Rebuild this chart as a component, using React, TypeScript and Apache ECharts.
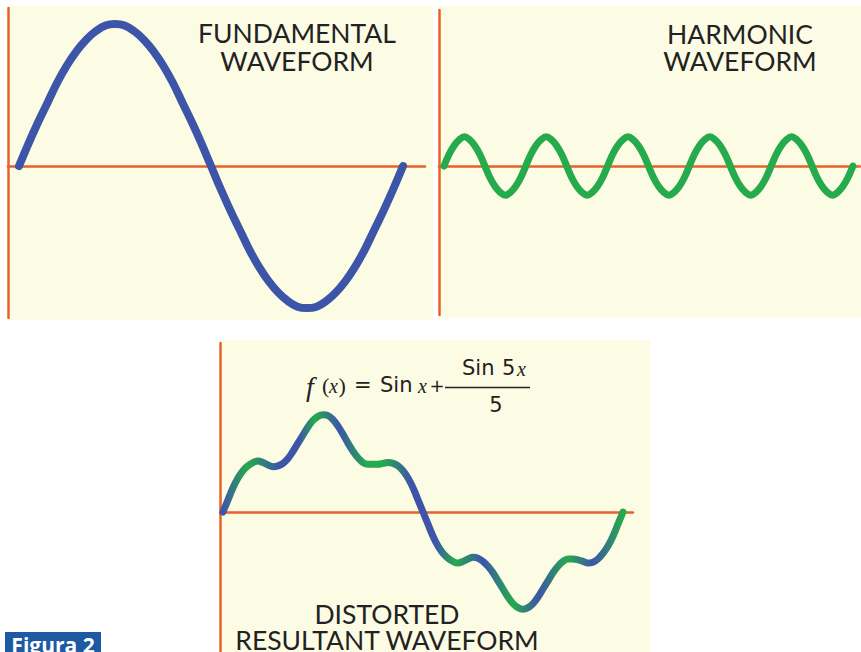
import React, { useEffect, useRef } from "react";
import * as echarts from "echarts";

// Sample phases, in degrees of the fundamental
const coarseDeg = [
  0, 9, 18, 27, 36, 45, 54, 63, 72, 81, 90, 99, 108, 117, 126, 135, 144, 153, 162, 171, 180,
  189, 198, 207, 216, 225, 234, 243, 252, 261, 270, 279, 288, 297, 306, 315, 324, 333, 342, 351, 360,
];
const fineDeg = [
  0, 4.5, 9, 13.5, 18, 22.5, 27, 31.5, 36, 40.5, 45, 49.5, 54, 58.5, 63, 67.5, 72, 76.5, 81, 85.5,
  90, 94.5, 99, 103.5, 108, 112.5, 117, 121.5, 126, 130.5, 135, 139.5, 144, 148.5, 153, 157.5, 162, 166.5, 171, 175.5,
  180, 184.5, 189, 193.5, 198, 202.5, 207, 211.5, 216, 220.5, 225, 229.5, 234, 238.5, 243, 247.5, 252, 256.5, 261, 265.5,
  270, 274.5, 279, 283.5, 288, 292.5, 297, 301.5, 306, 310.5, 315, 319.5, 324, 328.5, 333, 337.5, 342, 346.5, 351, 355.5,
  360,
];

// Fundamental (one cycle), unit amplitude
const fundamentalAmp = [
  0, 0.16, 0.31, 0.45, 0.59, 0.71, 0.81, 0.89, 0.95, 0.99, 1, 0.99, 0.95, 0.89, 0.81, 0.71, 0.59, 0.45, 0.31, 0.16, 0,
  -0.16, -0.31, -0.45, -0.59, -0.71, -0.81, -0.89, -0.95, -0.99, -1, -0.99, -0.95, -0.89, -0.81, -0.71, -0.59, -0.45, -0.31, -0.16, 0,
];

// Fifth harmonic (five cycles), one fifth of the fundamental's height
const harmonicAmp = [
  0, 0.08, 0.14, 0.18, 0.2, 0.18, 0.14, 0.08, 0, -0.08, -0.14, -0.18, -0.2, -0.18, -0.14, -0.08,
  0, 0.08, 0.14, 0.18, 0.2, 0.18, 0.14, 0.08, 0, -0.08, -0.14, -0.18, -0.2, -0.18, -0.14, -0.08,
  0, 0.08, 0.14, 0.18, 0.2, 0.18, 0.14, 0.08, 0, -0.08, -0.14, -0.18, -0.2, -0.18, -0.14, -0.08,
  0, 0.08, 0.14, 0.18, 0.2, 0.18, 0.14, 0.08, 0, -0.08, -0.14, -0.18, -0.2, -0.18, -0.14, -0.08,
  0, 0.08, 0.14, 0.18, 0.2, 0.18, 0.14, 0.08, 0, -0.08, -0.14, -0.18, -0.2, -0.18, -0.14, -0.08,
  0,
];

// Distorted resultant (fundamental plus harmonic)
const resultantAmp = [
  0, 0.15, 0.3, 0.42, 0.51, 0.57, 0.61, 0.63, 0.61, 0.58, 0.56, 0.57, 0.6, 0.66, 0.75, 0.85, 0.95, 1.05, 1.13, 1.18,
  1.2, 1.19, 1.14, 1.06, 0.96, 0.85, 0.75, 0.67, 0.61, 0.59, 0.59, 0.59, 0.6, 0.61, 0.6, 0.57, 0.51, 0.42, 0.3, 0.15,
  0, -0.15, -0.3, -0.42, -0.51, -0.57, -0.61, -0.63, -0.61, -0.58, -0.56, -0.57, -0.61, -0.67, -0.75, -0.85, -0.95, -1.05, -1.13, -1.18,
  -1.2, -1.18, -1.13, -1.05, -0.95, -0.85, -0.75, -0.67, -0.61, -0.58, -0.58, -0.59, -0.61, -0.63, -0.62, -0.58, -0.51, -0.42, -0.3, -0.15,
  0,
];

const panelTitles = {
  fundamental: "FUNDAMENTAL\nWAVEFORM",
  harmonic: "HARMONIC\nWAVEFORM",
  resultant: "DISTORTED\nRESULTANT WAVEFORM",
};
const figureLabel = "Figura 2";

const CREAM = "#fcfbe3";
const ORANGE = "#e8602a";
const BLUE = "#3d55a9";
const GREEN = "#25ab4b";
const INK = "#222222";
const SANS = "Lato, 'Open Sans', sans-serif";
const MATH_SANS = "'DejaVu Sans', sans-serif";
const SERIF = "'Liberation Serif', 'DejaVu Serif', serif";

const zip = (xs: number[], ys: number[]) => xs.map((x, i) => [x, ys[i]]);

function axisPair(gridIndex: number, xr: [number, number], yr: [number, number]) {
  const lineStyle = { color: ORANGE, width: 2.5 };
  return {
    x: {
      type: "value", gridIndex, min: xr[0], max: xr[1], z: 1,
      axisLine: { show: true, onZero: true, lineStyle },
      axisTick: { show: false }, axisLabel: { show: false }, splitLine: { show: false },
    },
    y: {
      type: "value", gridIndex, min: yr[0], max: yr[1], z: 1,
      axisLine: { show: true, onZero: false, lineStyle },
      axisTick: { show: false }, axisLabel: { show: false }, splitLine: { show: false },
    },
  };
}

function title(text: string, x: number, y: number, lineHeight: number) {
  return {
    type: "text", x, y, z: 10,
    style: {
      text, fill: INK, fontFamily: SANS, fontSize: 26.5, lineHeight,
      align: "center", verticalAlign: "middle",
    },
  };
}

function mathText(text: string, x: number, y: number, opts: Record<string, unknown> = {}) {
  return {
    type: "text", x, y, z: 10,
    style: {
      text, fill: INK, fontFamily: MATH_SANS, fontSize: 21,
      align: "left", verticalAlign: "middle", ...opts,
    },
  };
}

function mathItalic(text: string, x: number, y: number, size: number) {
  return {
    type: "text", x, y, z: 10,
    style: {
      text, fill: INK, fontFamily: SERIF, fontStyle: "italic", fontSize: size,
      align: "left", verticalAlign: "middle",
    },
  };
}

function mathParen(text: string, x: number, y: number) {
  return {
    type: "text", x, y, z: 10,
    style: { text, fill: INK, fontFamily: SERIF, fontSize: 22, align: "left", verticalAlign: "middle" },
  };
}

export default function App() {
  const ref = useRef<HTMLDivElement>(null);

  useEffect(() => {
    if (!ref.current) return;
    const chart = echarts.init(ref.current, undefined, { renderer: "svg" });

    const a0 = axisPair(0, [-10.3, 380.6], [-1.07, 1.113]);
    const a1 = axisPair(1, [-4.4, 366.2], [-1.017, 1.065]);
    const a2 = axisPair(2, [-2.7, 369], [-1.728, 2.086]);

    const resultantGradient = {
      type: "linear", x: 0, y: 0, x2: 1, y2: 0,
      colorStops: [
        { offset: 0, color: BLUE },
        { offset: 0.06, color: GREEN },
        { offset: 0.14, color: BLUE },
        { offset: 0.19, color: BLUE },
        { offset: 0.23, color: GREEN },
        { offset: 0.29, color: BLUE },
        { offset: 0.36, color: GREEN },
        { offset: 0.4, color: GREEN },
        { offset: 0.47, color: BLUE },
        { offset: 0.53, color: BLUE },
        { offset: 0.58, color: GREEN },
        { offset: 0.65, color: BLUE },
        { offset: 0.725, color: GREEN },
        { offset: 0.79, color: BLUE },
        { offset: 0.86, color: GREEN },
        { offset: 0.925, color: BLUE },
        { offset: 1, color: GREEN },
      ],
    };

    chart.setOption({
      animation: false,
      backgroundColor: "#ffffff",
      grid: [
        { left: 8, top: 8, width: 417, height: 310 },
        { left: 439, top: 10, width: 421, height: 305 },
        { left: 220, top: 343, width: 413, height: 309 },
      ],
      xAxis: [a0.x, a1.x, a2.x],
      yAxis: [a0.y, a1.y, a2.y],
      series: [
        {
          type: "line", xAxisIndex: 0, yAxisIndex: 0, z: 3,
          data: zip(coarseDeg, fundamentalAmp),
          smooth: 0.4, showSymbol: false, silent: true,
          lineStyle: { color: BLUE, width: 8, cap: "round" },
        },
        {
          type: "line", xAxisIndex: 1, yAxisIndex: 1, z: 3,
          data: zip(fineDeg, harmonicAmp),
          smooth: 0.4, showSymbol: false, silent: true,
          lineStyle: { color: GREEN, width: 7, cap: "round" },
        },
        {
          type: "line", xAxisIndex: 2, yAxisIndex: 2, z: 3,
          data: zip(fineDeg, resultantAmp),
          smooth: 0.4, showSymbol: false, silent: true,
          lineStyle: { color: resultantGradient, width: 7, cap: "round" },
        },
      ],
      graphic: [
        // panel backgrounds
        { type: "rect", z: -5, shape: { x: 9, y: 6, width: 424, height: 314 }, style: { fill: CREAM } },
        { type: "rect", z: -5, shape: { x: 439, y: 6, width: 422, height: 312 }, style: { fill: CREAM } },
        { type: "rect", z: -5, shape: { x: 221, y: 340, width: 429, height: 312 }, style: { fill: CREAM } },

        title(panelTitles.fundamental, 297, 47, 28),
        title(panelTitles.harmonic, 740, 47.5, 27),
        title(panelTitles.resultant, 387, 627, 26),

        // f(x) = Sin x + (Sin 5x) / 5
        mathItalic("f", 306, 386, 28),
        mathParen("(", 322, 385),
        mathItalic("x", 329, 385.5, 20),
        mathParen(")", 338.5, 385),
        mathText("=", 354, 385),
        mathText("Sin", 380, 385),
        mathItalic("x", 418, 385.5, 20),
        mathText("+", 429.5, 385, { fontSize: 18 }),
        { type: "line", z: 10, shape: { x1: 445, y1: 387.5, x2: 530, y2: 387.5 }, style: { stroke: INK, lineWidth: 1.5 } },
        mathText("Sin", 462, 368),
        mathText("5", 502, 368),
        mathItalic("x", 517, 368.5, 20),
        mathText("5", 496, 405, { align: "center" }),

        // figure tag
        { type: "rect", z: 10, shape: { x: 5, y: 632, width: 96, height: 22 }, style: { fill: "#1d5aa3" } },
        { type: "text", x: 53, y: 645, z: 11, style: { text: figureLabel, fill: "#ffffff", fontFamily: "'Open Sans', sans-serif", fontWeight: "bold", fontSize: 21, align: "center", verticalAlign: "middle" } },
      ],
    });

    return () => chart.dispose();
  }, []);

  return (
    <div
      ref={ref}
      style={{ position: "fixed", left: 0, top: 0, width: 861, height: 652 }}
    />
  );
}
